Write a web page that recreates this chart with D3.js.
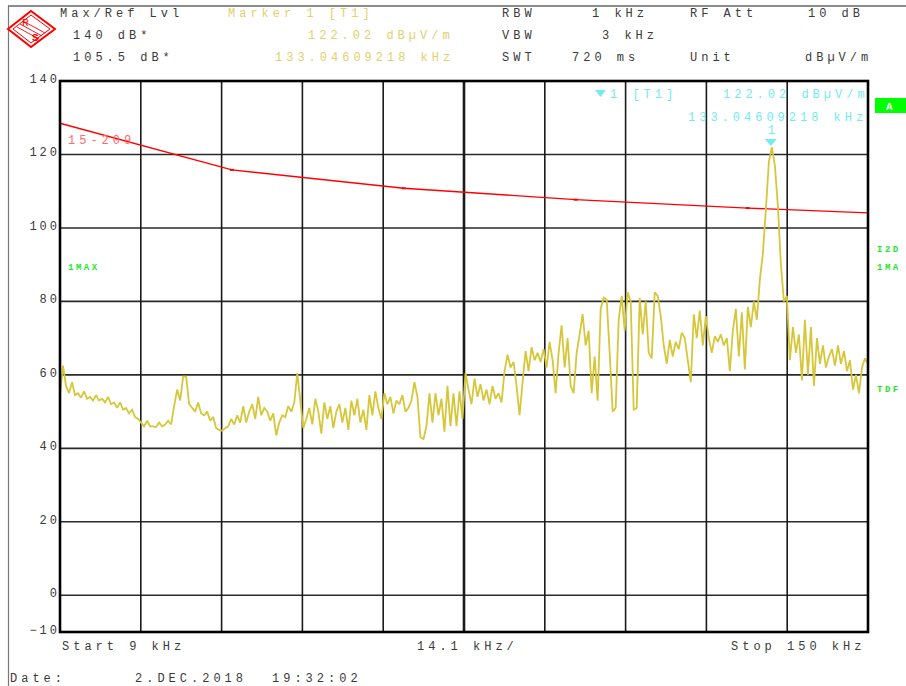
<!DOCTYPE html>
<html><head><meta charset="utf-8">
<script src="https://cdn.jsdelivr.net/npm/d3@7/dist/d3.min.js"></script>
<style>
html,body{margin:0;padding:0;background:#fff;}
svg text{font-family:"Liberation Mono","DejaVu Sans Mono",monospace;}
</style></head>
<body>
<svg id="chart" width="906" height="686"></svg>
<script>
// ---- data ----
const sweepStartKHz = 9;
const sweepStopKHz = 150;
const yTickValues = [140, 120, 100, 80, 60, 40, 20, 0, -10];
const yGridValues = [120, 100, 80, 60, 40, 20, 0];
const xDivisions = 10;
// FCC 15.209 limit line (kHz, dBµV/m)
const limitFreqs = [9, 39, 69, 99, 129, 150];
const limitDb = [128.5, 115.8, 110.8, 107.7, 105.4, 104.1];
// Max-hold trace (dBµV/m), equally spaced sweep points 9..150 kHz
const traceDb = [
 54.5,62.5,57,55,58,54.5,55,53.8,55.5,53.5,54,53,54.5,53,
 53.5,52.5,54,52,52.5,51,52.5,50.5,51,49.5,50.5,48.5,48,
 47,46,47.5,46,46,45.8,47,46,46.5,47.5,46.5,
 51.5,56,53,59.5,59.5,52,
 51,50,52.5,49.5,49,50,
 47.5,48.5,45.5,45,44.8,45.5,
 46,48,46.5,49,47,51.5,47,50,52,48,54,49,51,
 50,47.5,49.5,43.5,47,49,48.5,51.5,50,52.5,60.5,53,45.5,48,51,46.5,53.5,50,44,52.5,
 48,51.5,45.5,50,52,47,51,45,53,49,53.5,47,50.5,45,54.5,49,55.5,51,48,55,
 52,54,49.5,53,52,54.5,50,51,53,58,54,43,42.5,46,55,47,55,49,53.5,44.5,
 57,46,55,46,55.5,48,60.5,56,
 52,59,54,57.5,53,56,52,57,53.5,55,52.5,61,65.5,62,63.5,57,49,58,66.5,61,
 67.5,64,66,63.5,67,62,69,64,55,66,73.5,62,70,57,55,66,71,76.5,68,72,
 55,65,53,78,81,80.5,66,50,51,75,81.5,72,82.5,80,50.5,51,81,71,80,66,
 64.5,82.5,81.5,76,68,63,69.5,65,69,67,71.5,70,64,58,76.5,70,77.5,68,76,70,
 66,70.5,69,71,68,70,61,72,78,65,77,61.5,78.5,73,80,75,86,93,105,118,
 122,117,106,90,80,81.5,64,73,66,71,58.5,75,60,73,57,70,63,68,62,65,
 67,62.5,68,63,66.5,61,64,56,60,55,62,64.5,63
];
const markerFreq = 133.04609218;
const markerDb = 122.02;

// ---- layout ----
const svg = d3.select("#chart");
const L = 60, R = 868, T = 81, B = 632;
const x = d3.scaleLinear().domain([sweepStartKHz, sweepStopKHz]).range([L, R]);
const y = d3.scaleLinear().domain([-10, 140]).range([B, T]);

const mono = "Liberation Mono";
function txt(g, s, tx, ty, opt = {}) {
  return g.append("text").attr("x", tx).attr("y", ty).text(s)
    .attr("font-size", opt.size || 12)
    .attr("letter-spacing", opt.ls !== undefined ? opt.ls : 4)
    .attr("fill", opt.fill || "#3a3a3a")
    .attr("font-weight", opt.weight || "normal")
    .attr("text-anchor", opt.anchor || "start");
}

// frame lines
svg.append("line").attr("x1", 8).attr("x2", 906).attr("y1", 6).attr("y2", 6).attr("stroke", "#666").attr("stroke-width", 1.5);
svg.append("line").attr("x1", 8.5).attr("x2", 8.5).attr("y1", 6).attr("y2", 686).attr("stroke", "#777").attr("stroke-width", 1.2);

// logo
const logo = svg.append("g").attr("stroke", "#ff0000").attr("fill", "none");
logo.append("polygon").attr("points", "31,11 55,29 31,47 8,29").attr("stroke-width", 2);
logo.append("polygon").attr("points", "31,15 50,29 31,43 13,29").attr("stroke-width", 1);
[-3, 0, 3].forEach(d => {
  logo.append("line").attr("x1", 20 + d).attr("y1", 24 - d).attr("x2", 42 + d).attr("y2", 36 - d).attr("stroke-width", 0.9);
});
svg.append("text").attr("x", 22).attr("y", 26).text("R").attr("font-size", 11).attr("fill", "#ff0000").attr("font-family", "Liberation Sans");
svg.append("text").attr("x", 32).attr("y", 41).text("S").attr("font-size", 11).attr("fill", "#ff0000").attr("font-family", "Liberation Sans").attr("font-weight", "bold");

// header
const hdr = svg.append("g");
const yellowTxt = "#e3cf6c";
txt(hdr, "Max/Ref Lvl", 60, 17);
txt(hdr, "140 dB*", 73, 39);
txt(hdr, "105.5 dB*", 73, 61);
txt(hdr, "Marker 1 [T1]", 228, 17, {fill: yellowTxt});
txt(hdr, "122.02 dBµV/m", 308, 39, {fill: yellowTxt});
txt(hdr, "133.04609218 kHz", 275, 61, {fill: yellowTxt});
txt(hdr, "RBW", 502, 17); txt(hdr, "1 kHz", 592, 17);
txt(hdr, "RF Att", 690, 17); txt(hdr, "10 dB", 808, 17);
txt(hdr, "VBW", 502, 39); txt(hdr, "3 kHz", 602, 39);
txt(hdr, "SWT", 502, 61); txt(hdr, "720 ms", 572, 61);
txt(hdr, "Unit", 690, 61); txt(hdr, "dBµV/m", 805, 61);

// grid
const grid = svg.append("g");
yGridValues.forEach(v => {
  grid.append("line").attr("x1", L).attr("x2", R).attr("y1", y(v)).attr("y2", y(v))
    .attr("stroke", "#2a2a2a").attr("stroke-width", 1.6);
});
const xDivVals = d3.range(1, xDivisions).map(i => sweepStartKHz + i * (sweepStopKHz - sweepStartKHz) / xDivisions);
xDivVals.forEach((v, i) => {
  grid.append("line").attr("x1", x(v)).attr("x2", x(v)).attr("y1", T).attr("y2", B)
    .attr("stroke", "#1a1a1a").attr("stroke-width", i === 4 ? 2.6 : 1.6);
});

// y axis labels
const yAxis = d3.axisLeft(y).tickValues(yTickValues).tickSize(0).tickPadding(0);
const ya = svg.append("g").attr("transform", `translate(${L},0)`).call(yAxis);
ya.select(".domain").remove();
ya.selectAll("text").attr("font-family", mono).attr("font-size", 12).attr("letter-spacing", 3)
  .attr("fill", "#3a3a3a").attr("dy", "0.1em").attr("x", 0);

// limit line
const limLine = d3.line().x((d, i) => x(limitFreqs[i])).y(d => y(d));
svg.append("path").datum(limitDb).attr("d", limLine).attr("fill", "none").attr("stroke", "#ff0000").attr("stroke-width", 1.4);
svg.selectAll(".limpt").data(limitDb.slice(1, -1)).enter().append("line")
  .attr("x1", (d, i) => x(limitFreqs[i + 1]) - 2).attr("x2", (d, i) => x(limitFreqs[i + 1]) + 2)
  .attr("y1", d => y(d)).attr("y2", d => y(d)).attr("stroke", "#ff0000").attr("stroke-width", 2);
txt(svg, "15-209", 68, 144, {fill: "#ff6a6a"});

// trace
const n = traceDb.length;
const traceFreqs = d3.range(n).map(i => sweepStartKHz + i * (sweepStopKHz - sweepStartKHz) / (n - 1));
const tLine = d3.line().x((d, i) => x(traceFreqs[i])).y(d => y(d));
svg.append("path").datum(traceDb).attr("d", tLine).attr("fill", "none")
  .attr("stroke", "#d6c73a").attr("stroke-width", 1.8).attr("stroke-linejoin", "miter").attr("stroke-miterlimit", 2);

// border
svg.append("rect").attr("x", L).attr("y", T).attr("width", R - L).attr("height", B - T)
  .attr("fill", "none").attr("stroke", "#000").attr("stroke-width", 2.6);

// marker
const cyan = "#74eaf2";
const mx = x(markerFreq), my = y(markerDb);
svg.append("path").attr("d", `M${mx - 6},${my - 8} L${mx + 6},${my - 8} L${mx},${my - 1} Z`).attr("fill", cyan);
txt(svg, "1", mx - 3, my - 13, {fill: cyan, ls: 0});
svg.append("path").attr("d", "M595,90 L606,90 L600.5,97 Z").attr("fill", cyan);
txt(svg, "1 [T1]", 610, 98, {fill: cyan});
txt(svg, "122.02 dBµV/m", 723, 98, {fill: cyan});
txt(svg, "133.04609218 kHz", 688, 121, {fill: cyan});

// side labels
const green = "#22e62a";
txt(svg, "1MAX", 68, 270, {fill: green, size: 9, weight: "bold", ls: 2.5});
svg.append("rect").attr("x", 875).attr("y", 98).attr("width", 31).attr("height", 15).attr("fill", "#00ff00");
txt(svg, "A", 886, 110, {fill: "#fff", size: 11, ls: 0, weight: "bold"});
txt(svg, "I2D", 877, 252, {fill: green, size: 9, weight: "bold", ls: 2.5});
txt(svg, "1MA", 877, 270, {fill: green, size: 9, weight: "bold", ls: 2.5});
txt(svg, "TDF", 877, 392, {fill: green, size: 9, weight: "bold", ls: 2.5});

// bottom
txt(svg, "Start 9 kHz", 62, 650);
txt(svg, "14.1 kHz/", 417, 650);
txt(svg, "Stop 150 kHz", 731, 650);
txt(svg, "Date:", 10, 682);
txt(svg, "2.DEC.2018", 135, 682);
txt(svg, "19:32:02", 272, 682);
</script>
</body></html>
